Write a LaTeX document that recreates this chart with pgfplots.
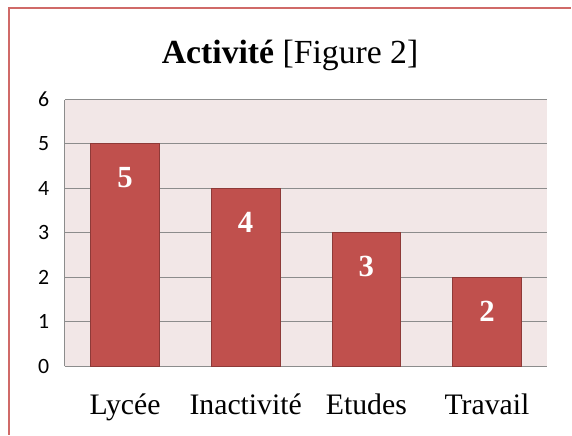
\documentclass[border=0pt]{standalone}
\usepackage{pgfplots}
\pgfplotsset{compat=1.18}
\usepackage{fontspec}
\setmainfont{Liberation Serif}
\newfontfamily\calibri{Carlito}
\definecolor{barfill}{HTML}{C0504D}
\definecolor{bardraw}{HTML}{8E3A38}
\definecolor{plotbg}{HTML}{F2E7E7}
\definecolor{gridc}{HTML}{8C8C8C}
\definecolor{framec}{HTML}{D06A68}
\begin{document}
\begin{tikzpicture}[x=1bp,y=1bp]
\fill[white] (0,0) rectangle (572,435);
\draw[framec, line width=1.6bp] (9,-2) -- (9,427) -- (574,427);
\begin{axis}[
  at={(65bp,67bp)}, anchor=south west,
  scale only axis,
  width=485bp, height=268bp,
  ymin=0, ymax=6, ytick={0,1,...,6},
  xmin=-0.5, xmax=3.5,
  xtick=data,
  xticklabels={Lycée,Inactivité,Etudes,Travail},
  axis background/.style={fill=plotbg},
  ymajorgrids,
  grid style={gridc, line width=1bp},
  axis x line*=bottom,
  axis y line*=left,
  axis line style={gridc, line width=1bp},
  major tick length=0pt,
  tick style={draw=none},
  ybar, bar width=69bp,
  yticklabel style={font=\calibri\fontsize{22}{24}\selectfont, xshift=-12bp},
  xticklabel style={font=\fontsize{30}{32}\selectfont, yshift=-24bp},
  /pgf/number format/assume math mode=true,
  nodes near coords,
  every node near coord/.append style={font=\bfseries\fontsize{31}{33}\selectfont, text=white, anchor=center, yshift=-34bp},
  title={\textbf{Activité} [Figure 2]},
  title style={font=\fontsize{34}{37}\selectfont, at={(0.5,1)}, anchor=south, yshift=19bp, xshift=-16bp},
  clip=false,
]
\addplot[fill=barfill, draw=bardraw, line width=1bp] coordinates {(0,5) (1,4) (2,3) (3,2)};
\end{axis}
\end{tikzpicture}
\end{document}
